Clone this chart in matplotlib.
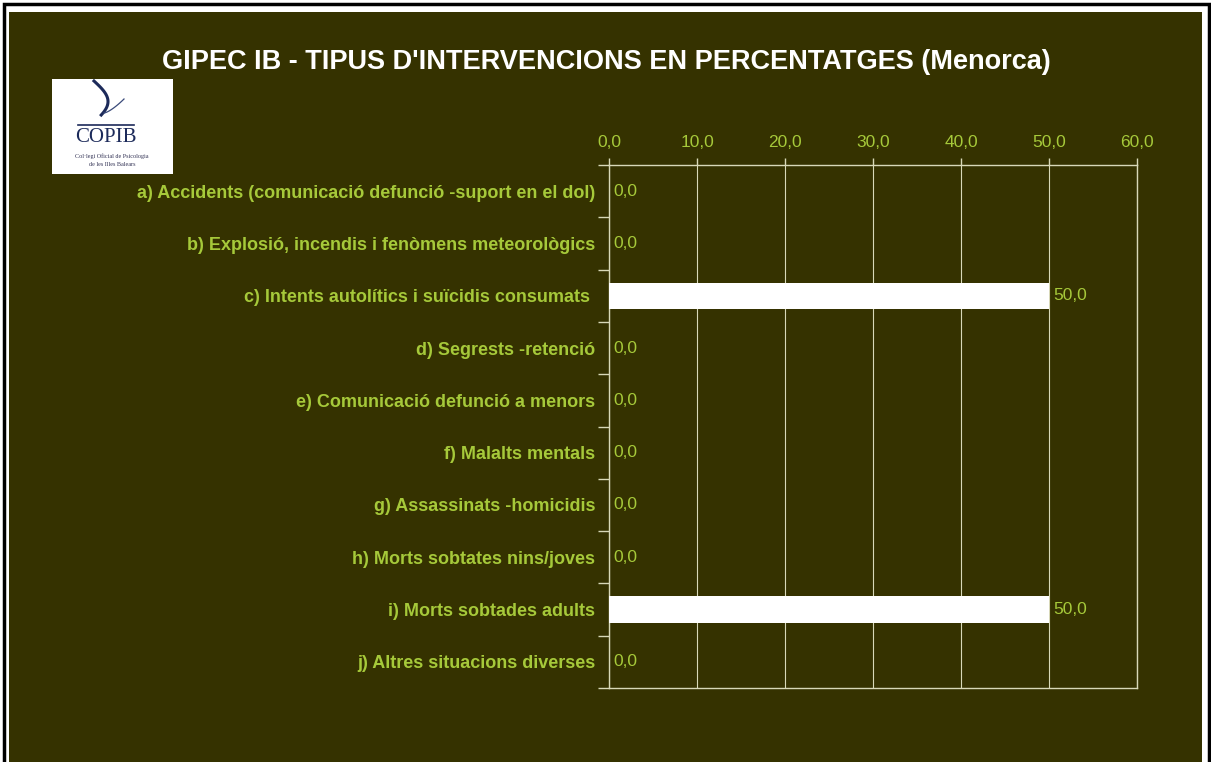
import numpy as np
import matplotlib.pyplot as plt
from matplotlib.patches import Rectangle

# Chart data
categories = [
    "a) Accidents (comunicació defunció -suport en el dol)",
    "b) Explosió, incendis i fenòmens meteorològics",
    "c) Intents autolítics i suïcidis consumats ",
    "d) Segrests -retenció",
    "e) Comunicació defunció a menors",
    "f) Malalts mentals",
    "g) Assassinats -homicidis",
    "h) Morts sobtates nins/joves",
    "i) Morts sobtades adults",
    "j) Altres situacions diverses",
]
values = [0.0, 0.0, 50.0, 0.0, 0.0, 0.0, 0.0, 0.0, 50.0, 0.0]
xticks = [0, 10, 20, 30, 40, 50, 60]

title = "GIPEC IB - TIPUS D'INTERVENCIONS EN PERCENTATGES (Menorca)"

W, H = 1211, 762
bg = "#353200"
label_col = "#a6c93a"
line_col = "#d8d8b8"

plt.rcParams["font.family"] = ["Liberation Sans", "DejaVu Sans"]

fig = plt.figure(figsize=(W / 100, H / 100), dpi=100)
fig.patch.set_facecolor("white")

# outer frame and dark panel (pixel coords)
def px(x, y, w, h):
    return (x / W, 1 - (y + h) / H, w / W, h / H)

x0, y0, w0, h0 = px(4, 4, 1205, 760)
fig.patches.append(Rectangle((x0, y0), w0, h0, transform=fig.transFigure,
                             facecolor="white", edgecolor="black", lw=2.5, zorder=-10))
x0, y0, w0, h0 = px(9, 12, 1193, 752)
fig.patches.append(Rectangle((x0, y0), w0, h0, transform=fig.transFigure,
                             facecolor=bg, edgecolor="none", zorder=-9))

fig.text(606 / W, 1 - 62 / H, title, color="white", fontsize=19.5, fontweight="bold",
         ha="center", va="center")

# logo box
lx, ly, lw_, lh = px(52, 79, 121, 95)
logo = fig.add_axes([lx, ly, lw_, lh])
logo.set_xlim(0, 121)
logo.set_ylim(95, 0)
logo.set_facecolor("white")
for s in logo.spines.values():
    s.set_visible(False)
logo.set_xticks([])
logo.set_yticks([])
t = np.linspace(0, 1, 50)
logo.plot(42 + 14 * np.sin(t * 2.6), 2 + 34 * t, color="#1c2a5a", lw=2.2)
logo.plot(52 + 20 * t, 34 - 14 * t ** 1.4, color="#3a4a7a", lw=0.9)
logo.plot([26, 82], [46, 46], color="#1c2a5a", lw=1.2)
logo.text(54, 59, "COPIB", family="Liberation Serif", fontsize=15, color="#1c2a5a",
          ha="center", va="center")
logo.text(60, 77, "Col·legi Oficial de Psicologia", family="Liberation Serif",
          fontsize=4.4, color="#333355", ha="center", va="center")
logo.text(60, 85, "de les Illes Balears", family="Liberation Serif",
          fontsize=4.4, color="#333355", ha="center", va="center")

# main axes
ax_rect = px(609, 165, 528, 523)
ax = fig.add_axes(ax_rect)
ax.set_facecolor(bg)
y = np.arange(len(categories))
ax.barh(y, values, height=0.5, color="white", zorder=3)
ax.set_xlim(0, 60)
ax.set_ylim(len(categories) - 0.5, -0.5)
ax.xaxis.tick_top()
ax.set_xticks(xticks)
ax.set_xticklabels([f"{v:.1f}".replace(".", ",") for v in xticks])
ax.tick_params(axis="x", colors=line_col, labelcolor=label_col, labelsize=12.5,
               length=5, width=1, pad=6)
ax.set_yticks(y)
ax.set_yticklabels(categories, fontweight="bold", color=label_col, fontsize=13)
ax.tick_params(axis="y", which="major", length=0, pad=10)
ax.set_yticks(np.arange(len(categories) + 1) - 0.5, minor=True)
ax.tick_params(axis="y", which="minor", length=8, width=1, colors=line_col)
ax.grid(axis="x", color=line_col, lw=0.8, zorder=1)
for s in ax.spines.values():
    s.set_color(line_col)
    s.set_linewidth(1)

for yi, v in zip(y, values):
    ax.text(v + 0.5, yi, f"{v:.1f}".replace(".", ","), color=label_col,
            fontsize=12.5, va="center", ha="left", zorder=4)

fig.savefig("out.png", dpi=100, facecolor=fig.get_facecolor())
